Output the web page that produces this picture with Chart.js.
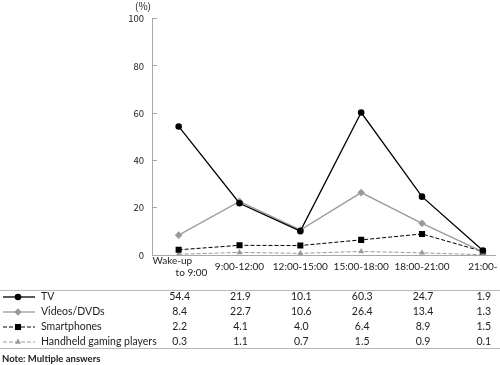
<!DOCTYPE html>
<html>
<head>
<meta charset="utf-8">
<script src="https://cdn.jsdelivr.net/npm/chart.js@4"></script>
<style>
html, body { margin: 0; padding: 0; background: #fff; }
#wrap { width: 500px; height: 365px; position: relative; }
</style>
</head>
<body>
<div id="wrap"><canvas id="myChart"></canvas></div>
<script>
const categories = [['Wake-up     ', '          to 9:00'], '9:00-12:00', '12:00-15:00', '15:00-18:00', '18:00-21:00', '21:00-'];
const seriesNames = ['TV', 'Videos/DVDs', 'Smartphones', 'Handheld gaming players'];
const tv = [54.4, 21.9, 10.1, 60.3, 24.7, 1.9];
const videos = [8.4, 22.7, 10.6, 26.4, 13.4, 1.3];
const smartphones = [2.2, 4.1, 4.0, 6.4, 8.9, 1.5];
const handheld = [0.3, 1.1, 0.7, 1.5, 0.9, 0.1];
const yTicks = [0, 20, 40, 60, 80, 100];
const unitLabel = '(%)';
const note = 'Note: Multiple answers';

const FONT = 'Lato, sans-serif';
const GREY = '#9a9a9a';
const AXIS = '#a8a8a8';

const toPoints = arr => arr.map((v, i) => ({ x: i, y: v }));

const data = {
    datasets: [{
        label: seriesNames[0],
        data: toPoints(tv),
        borderColor: '#000',
        backgroundColor: '#000',
        borderWidth: 1.3,
        pointStyle: 'circle',
        pointRadius: 3.3,
        pointBorderWidth: 0,
    }, {
        label: seriesNames[1],
        data: toPoints(videos),
        borderColor: GREY,
        backgroundColor: GREY,
        borderWidth: 1.3,
        pointStyle: 'rectRot',
        pointRadius: 3.8,
        pointBorderWidth: 0,
    }, {
        label: seriesNames[2],
        data: toPoints(smartphones),
        borderColor: '#000',
        backgroundColor: '#000',
        borderWidth: 1,
        borderDash: [4, 2],
        pointStyle: 'rect',
        pointRadius: 4.3,
        pointBorderWidth: 0,
    }, {
        label: seriesNames[3],
        data: toPoints(handheld),
        borderColor: GREY,
        backgroundColor: GREY,
        borderWidth: 1,
        borderDash: [4, 2],
        pointStyle: 'triangle',
        pointRadius: 3.5,
        pointBorderWidth: 0,
    }]
};

// data table, unit label and note under the plot
const tablePlugin = {
    id: 'dataTable',
    afterDraw(chart) {
        const ctx = chart.ctx;
        const xs = chart.scales.x;
        const sets = [tv, videos, smartphones, handheld];
        ctx.save();
        ctx.strokeStyle = '#b9b9b9';
        ctx.lineWidth = 1;
        ctx.beginPath();
        ctx.moveTo(0, 290.5); ctx.lineTo(500, 290.5);
        ctx.moveTo(0, 348.5); ctx.lineTo(500, 348.5);
        ctx.stroke();

        ctx.font = '10.5px ' + FONT;
        ctx.textBaseline = 'middle';
        chart.data.datasets.forEach((ds, r) => {
            const y = 297 + r * 15;
            ctx.strokeStyle = ds.borderColor;
            ctx.fillStyle = ds.backgroundColor;
            ctx.lineWidth = ds.borderWidth;
            ctx.setLineDash(ds.borderDash || []);
            ctx.beginPath();
            ctx.moveTo(3, y); ctx.lineTo(35, y);
            ctx.stroke();
            ctx.setLineDash([]);
            Chart.helpers.drawPoint(ctx, {
                pointStyle: ds.pointStyle, radius: ds.pointRadius, rotation: 0, borderWidth: 0
            }, 18, y);
            ctx.fillStyle = '#222';
            ctx.textAlign = 'left';
            ctx.fillText(seriesNames[r], 41, y);
            ctx.textAlign = 'center';
            sets[r].forEach((v, i) => {
                ctx.fillText(v.toFixed(1), xs.getPixelForValue(i) + 1, y);
            });
        });

        ctx.textAlign = 'left';
        ctx.font = 'bold 9.5px ' + FONT;
        ctx.fillStyle = '#222';
        ctx.fillText(note, 2, 359);

        ctx.font = '10px "Noto Sans CJK JP"';
        ctx.textAlign = 'center';
        ctx.fillText(unitLabel, 143, 6);
        ctx.restore();
    }
};

const options = {
    responsive: true,
    maintainAspectRatio: false,
    animation: false,
    layout: { padding: { top: 16, left: 0, right: 0, bottom: 0 } },
    scales: {
        x: {
            type: 'linear',
            min: -0.438,
            max: 5.211,
            afterBuildTicks: s => { s.ticks = categories.map((c, i) => ({ value: i })); },
            afterFit: s => { s.height = 110; s.paddingLeft = 0; s.paddingRight = 0; },
            border: { color: AXIS, width: 1 },
            grid: { drawOnChartArea: false, drawTicks: false },
            ticks: {
                callback: (v, i) => categories[i],
                autoSkip: false,
                maxRotation: 0,
                padding: 6,
                crossAlign: 'center',
                color: '#222',
                font: { family: FONT, size: 10 },
            },
        },
        y: {
            min: 0,
            max: 100,
            afterBuildTicks: s => { s.ticks = yTicks.map(v => ({ value: v })); },
            afterFit: s => { s.width = 152; },
            border: { color: AXIS, width: 1 },
            grid: { drawOnChartArea: false, tickLength: -5, color: AXIS },
            ticks: {
                padding: 13,
                color: '#222',
                font: { family: '"Noto Sans CJK JP"', size: 9.5 },
            },
        },
    },
    plugins: {
        legend: { display: false },
        tooltip: { enabled: false },
    }
};

const config = {
    type: 'line',
    data: data,
    options,
    plugins: [tablePlugin]
};

const myChart = new Chart(
    document.getElementById('myChart'),
    config
);
</script>
</body>
</html>
